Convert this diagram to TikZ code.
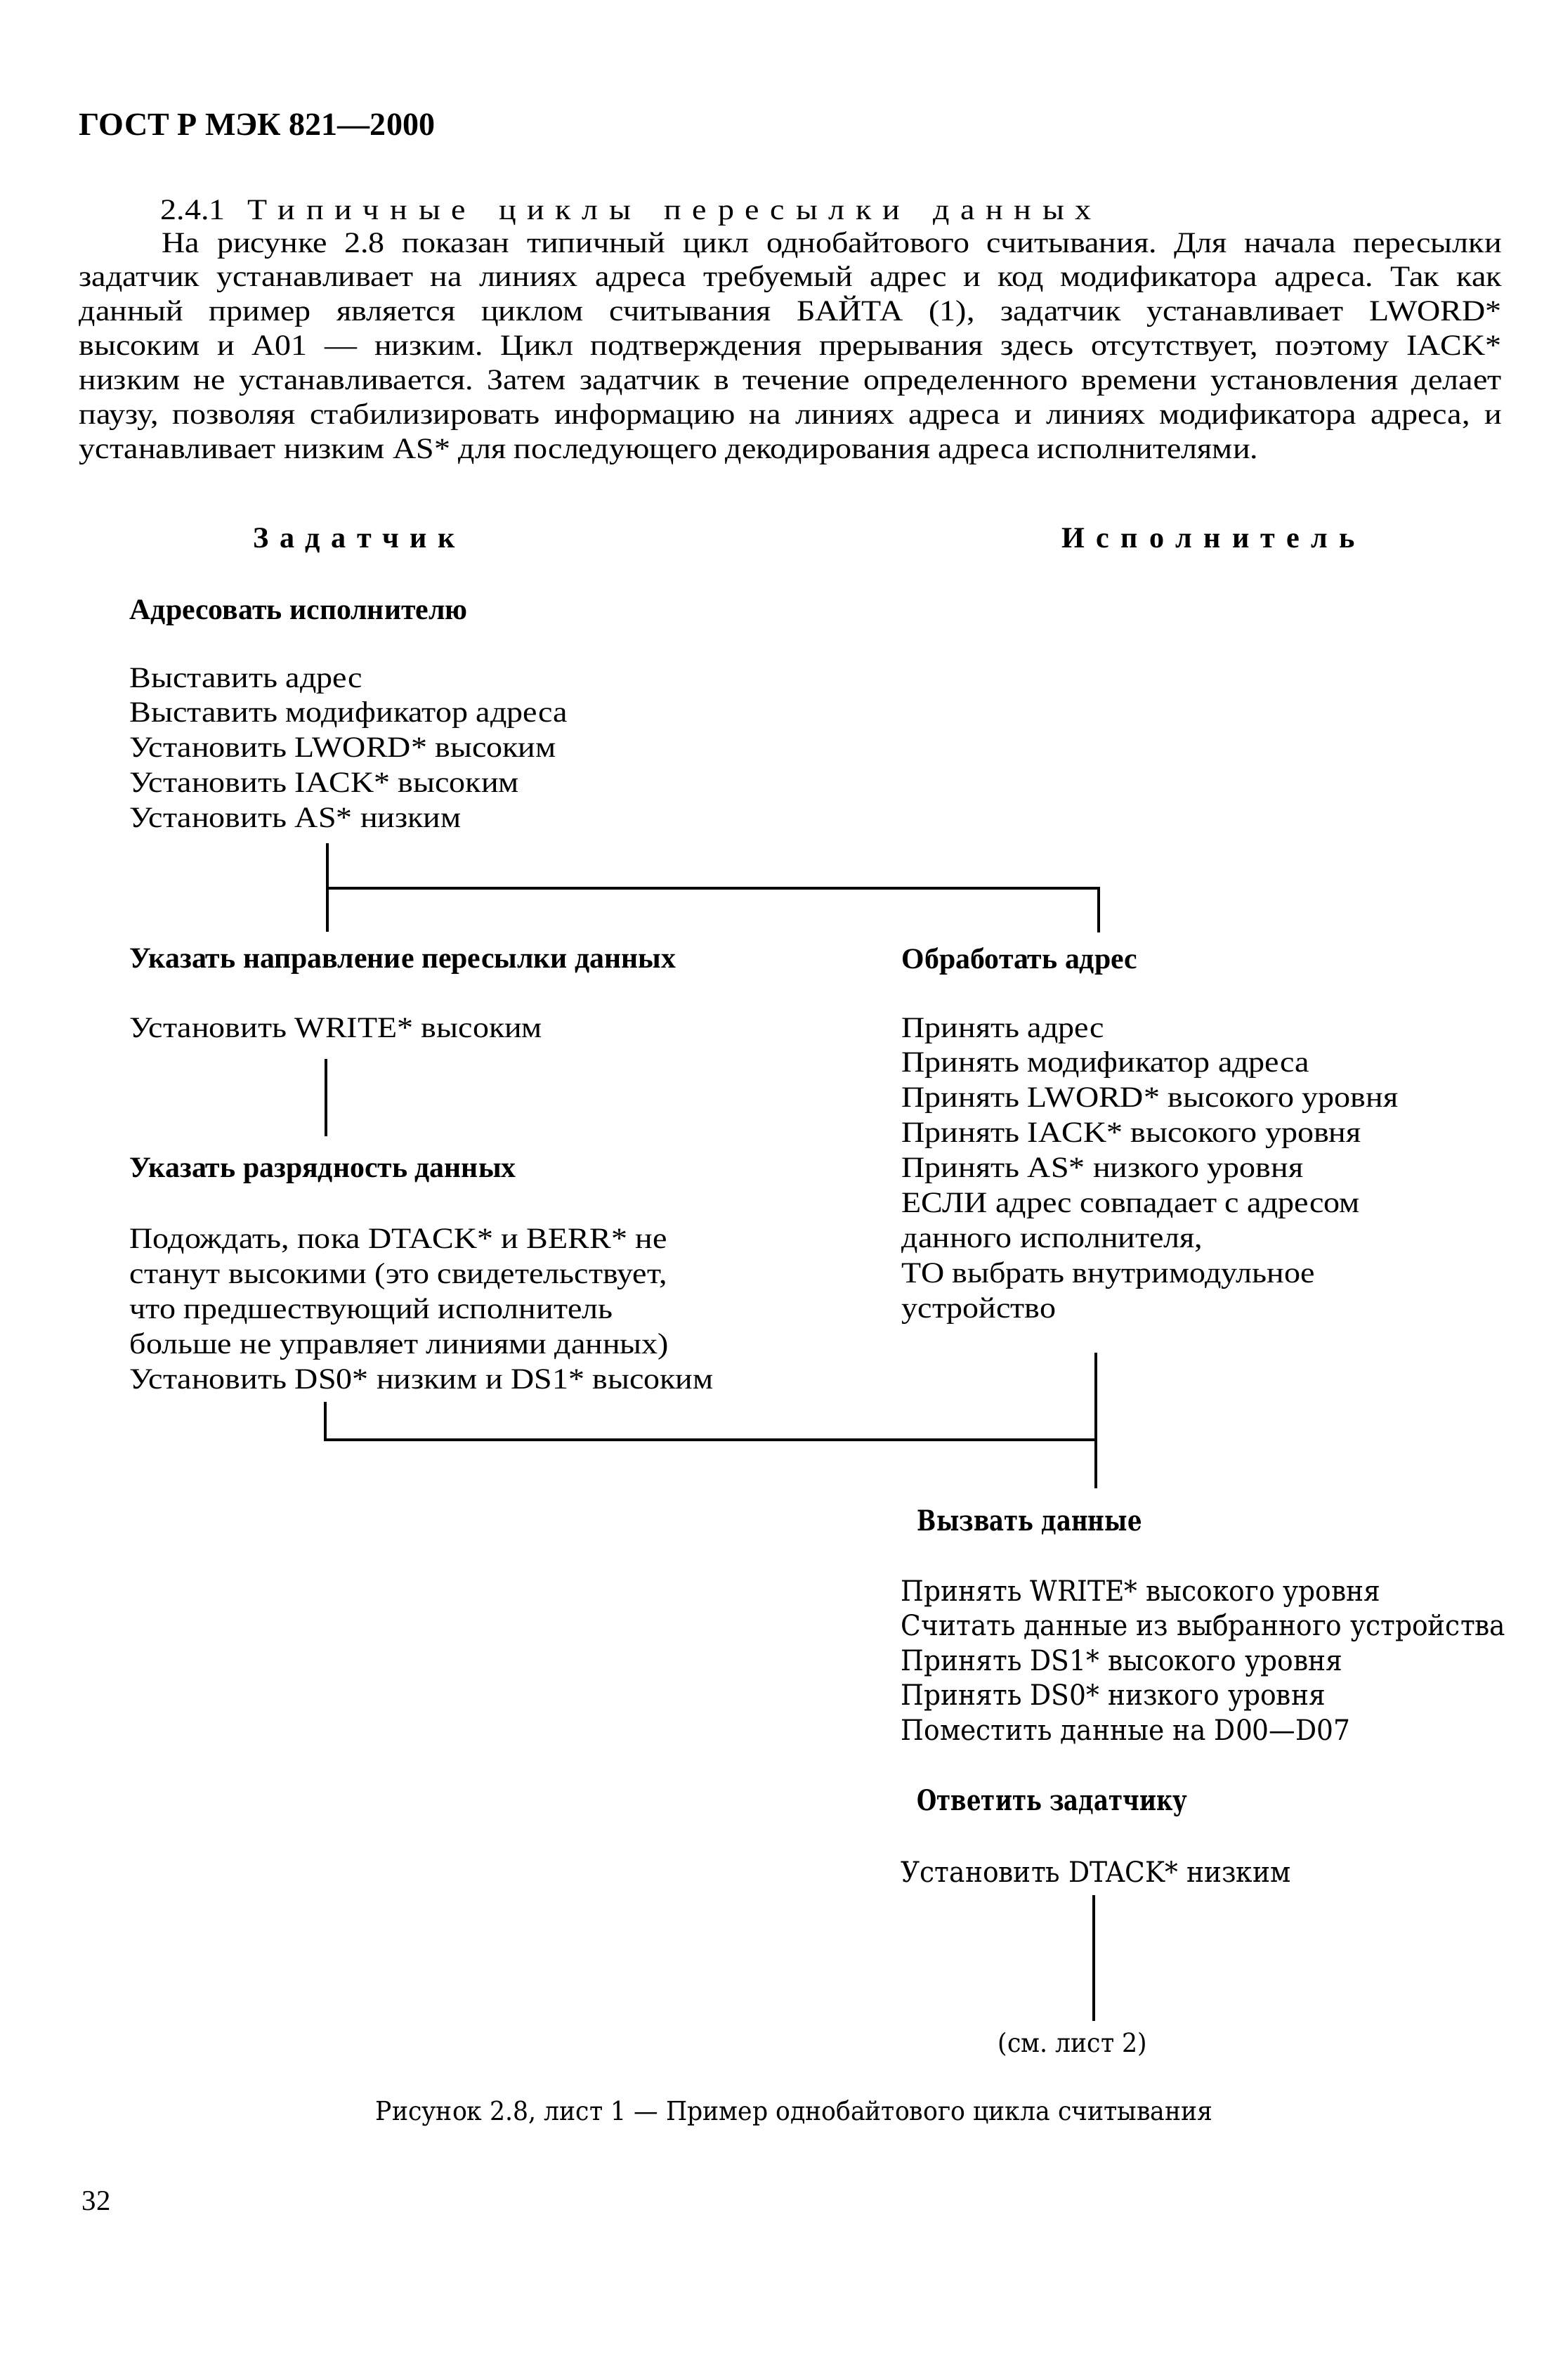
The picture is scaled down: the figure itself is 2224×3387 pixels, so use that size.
\documentclass[tikz,border=0pt]{standalone}
\usepackage{fontspec}
\setmainfont{Liberation Serif}
\newfontfamily\plainfont{Liberation Serif}[FakeStretch=1.1]
\newfontfamily\wideserif{DejaVu Serif}[FakeStretch=0.93]
\newfontfamily\widehead{DejaVu Serif}[FakeStretch=0.8]
\usepackage{tikz}
\usetikzlibrary{positioning}
\frenchspacing

\begin{document}
\begin{tikzpicture}[x=0.1mm, y=-0.1mm,
    body/.style={anchor=base west, inner sep=0pt, font=\plainfont\fontsize{11.9}{14}\selectfont},
    lbl/.style={anchor=base west, inner sep=0pt, font=\plainfont\fontsize{11.9}{14}\selectfont},
    hd/.style={anchor=base west, inner sep=0pt, font=\fontsize{11.9}{14}\selectfont\bfseries},
    wlbl/.style={anchor=base west, inner sep=0pt, font=\wideserif\fontsize{11.5}{14}\selectfont},
    whd/.style={anchor=base west, inner sep=0pt, font=\widehead\fontsize{11.5}{14}\selectfont\bfseries},
    conn/.style={line width=0.4mm}
]
\useasboundingbox (0,0) rectangle (2224,3387);

% page head and text
\node[hd, font=\fontsize{13.1}{15}\selectfont\bfseries] (gost) at (112,193) {ГОСТ Р МЭК 821—2000};
\node[body] (sec) at (228,313) {\makebox[132.5mm][s]{2.4.1\ \ Т и п и ч н ы е\ \ \ ц и к л ы\ \ \ п е р е с ы л к и\ \ \ д а н н ы х}};
\node[body] (p1) at (230,360) {\makebox[190.7mm][s]{На рисунке 2.8 показан типичный цикл однобайтового считывания. Для начала пересылки}};
\node[body] (p2) at (112,408) {\makebox[202.5mm][s]{задатчик устанавливает на линиях адреса требуемый адрес и код модификатора адреса. Так как}};
\node[body] (p3) at (112,457) {\makebox[202.5mm][s]{данный пример является циклом считывания БАЙТА (1), задатчик устанавливает LWORD*}};
\node[body] (p4) at (112,506) {\makebox[202.5mm][s]{высоким и A01 — низким. Цикл подтверждения прерывания здесь отсутствует, поэтому IACK*}};
\node[body] (p5) at (112,555) {\makebox[202.5mm][s]{низким не устанавливается. Затем задатчик в течение определенного времени установления делает}};
\node[body] (p6) at (112,604) {\makebox[202.5mm][s]{паузу, позволяя стабилизировать информацию на линиях адреса и линиях модификатора адреса, и}};
\node[body] (p7) at (112,653) {устанавливает низким AS* для последующего декодирования адреса исполнителями.};

% columns
\node[hd, font=\fontsize{12}{14}\selectfont\bfseries] (master) at (360,780) {\makebox[28.7mm][s]{З а д а т ч и к}};
\node[hd, font=\fontsize{12}{14}\selectfont\bfseries] (slave) at (1511,780) {\makebox[41.7mm][s]{И с п о л н и т е л ь}};

\node[hd] (addr) at (184,882) {Адресовать исполнителю};
\foreach \t [count=\i from 0] in {Выставить адрес, Выставить модификатор адреса,
    Установить LWORD* высоким, Установить IACK* высоким, Установить AS* низким}
  \node[lbl] (set\i) at (184,{978+49.75*\i}) {\t};

\node[hd] (dir) at (184,1377) {Указать направление пересылки данных};
\node[lbl] (write) at (184,1476) {Установить WRITE* высоким};
\node[hd] (width) at (184,1675) {Указать разрядность данных};
\foreach \t [count=\i from 0] in {{Подождать, пока DTACK* и BERR* не},
    {станут высокими (это свидетельствует,}, что предшествующий исполнитель,
    больше не управляет линиями данных), Установить DS0* низким и DS1* высоким}
  \node[lbl] (wait\i) at (184,{1776+50*\i}) {\t};

\node[hd] (proc) at (1283,1378) {Обработать адрес};
\foreach \t [count=\i from 0] in {Принять адрес, Принять модификатор адреса,
    Принять LWORD* высокого уровня, Принять IACK* высокого уровня,
    Принять AS* низкого уровня, ЕСЛИ адрес совпадает с адресом,
    {данного исполнителя,}, ТО выбрать внутримодульное, устройство}
  \node[lbl] (acc\i) at (1283,{1476+49.9*\i}) {\t};

\node[whd] (fetch) at (1305,2178) {Вызвать данные};
\foreach \t [count=\i from 0] in {Принять WRITE* высокого уровня,
    Считать данные из выбранного устройства, Принять DS1* высокого уровня,
    Принять DS0* низкого уровня, Поместить данные на D00—D07}
  \node[wlbl] (rd\i) at (1282,{2278+49.5*\i}) {\t};
\node[whd] (reply) at (1305,2576) {Ответить задатчику};
\node[wlbl] (dtack) at (1282,2678) {Установить DTACK* низким};
\node[wlbl, font=\wideserif\fontsize{10.6}{13}\selectfont] (next) at (1420,2920) {(см. лист 2)};

\node[wlbl, font=\wideserif\fontsize{10.6}{13}\selectfont] (cap) at (534,3017) {Рисунок 2.8, лист 1 — Пример однобайтового цикла считывания};
\node[body, font=\fontsize{11.6}{14}\selectfont] (page) at (116,3145) {32};

% connectors
\coordinate (c1a) at (466,1200);
\coordinate (c1b) at (466,1326);
\coordinate (c1j) at (466,1264);
\coordinate (c1r) at (1564,1264);
\coordinate (c1e) at (1564,1327);
\draw[conn] (c1a) -- (c1b);
\draw[conn] (c1j) -- (c1r) -- (c1e);

\coordinate (c2a) at (464,1507);
\coordinate (c2b) at (464,1617);
\draw[conn] (c2a) -- (c2b);

\coordinate (c3a) at (463,1995);
\coordinate (c3j) at (463,2049);
\coordinate (c3r) at (1560,2049);
\coordinate (c3t) at (1560,1925);
\coordinate (c3e) at (1560,2118);
\draw[conn] (c3a) -- (c3j) -- (c3r);
\draw[conn] (c3t) -- (c3e);

\coordinate (c4a) at (1557,2697);
\coordinate (c4b) at (1557,2876);
\draw[conn] (c4a) -- (c4b);
\end{tikzpicture}
\end{document}
